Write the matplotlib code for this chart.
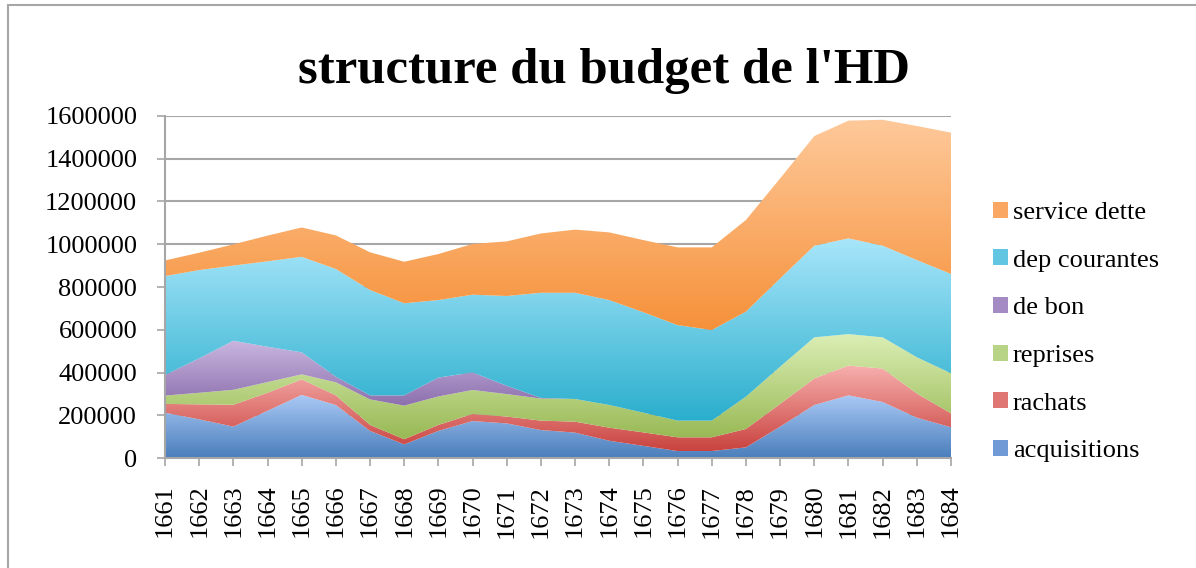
import matplotlib
matplotlib.use("Agg")
import matplotlib.pyplot as plt
import numpy as np
from matplotlib.colors import LinearSegmentedColormap
from matplotlib.patches import Patch, Rectangle

years = list(range(1661, 1685))

acquisitions = [213000, 182000, 148000, 222000, 296000, 249000, 128000, 65000, 128000, 174000, 163000, 132000,
                120000, 82000, 58000, 34000, 34000, 51000, 148000, 249000, 294000, 263000, 190000, 145000]
rachats = [41000, 70000, 102000, 84000, 73000, 45000, 28000, 24000, 28000, 33000, 32000, 44000,
           51000, 61000, 63000, 64000, 64000, 86000, 106000, 124000, 139000, 156000, 113000, 65000]
reprises = [39000, 54000, 70000, 50000, 23000, 61000, 119000, 157000, 133000, 112000, 105000, 103000,
            106000, 106000, 92000, 78000, 78000, 151000, 174000, 192000, 147000, 146000, 169000, 187000]
de_bon = [96000, 161000, 229000, 165000, 103000, 26000, 19000, 48000, 88000, 82000, 39000, 3000,
          0, 0, 0, 0, 0, 0, 0, 0, 0, 0, 0, 0]
dep_courantes = [462000, 412000, 351000, 399000, 446000, 503000, 492000, 430000, 362000, 363000, 419000, 491000,
                 496000, 490000, 469000, 446000, 423000, 397000, 412000, 428000, 447000, 428000, 454000, 464000]
service_dette = [73000, 81000, 99000, 120000, 137000, 157000, 176000, 194000, 215000, 237000, 255000, 277000,
                 295000, 316000, 337000, 363000, 386000, 428000, 467000, 512000, 550000, 588000, 626000, 660000]

labels = ["acquisitions", "rachats", "reprises", "de bon", "dep courantes", "service dette"]
series = [acquisitions, rachats, reprises, de_bon, dep_courantes, service_dette]
# (bottom colour, top colour) of each gradient
colours = [("#4a7ebb", "#abcaf6"), ("#c9433f", "#f7b0ae"), ("#98b954", "#dcefb6"),
           ("#7e5fa2", "#cfbde4"), ("#2aaecd", "#a8e6fa"), ("#f6913a", "#fec99a")]
legend_colours = ["#6f9ad6", "#e07673", "#b8d487", "#a48bc3", "#62c6e3", "#f9a763"]

title = "structure du budget de l'HD"

plt.rcParams["font.family"] = ["Liberation Serif", "DejaVu Serif"]

fig = plt.figure(figsize=(11.96, 5.68), dpi=100)
ax = fig.add_axes([165 / 1196, 1 - 458.3 / 568, (951 - 165) / 1196, (458.3 - 115.7) / 568])

x = np.array(years)
base = np.zeros(len(x))
grad = np.linspace(0, 1, 256).reshape(-1, 1)
handles = []
for vals, lab, (c0, c1), lc in zip(series, labels, colours, legend_colours):
    top = base + np.array(vals)
    poly = ax.fill_between(x, base, top, color="none", linewidth=0, zorder=2)
    cmap = LinearSegmentedColormap.from_list(lab, [c0, c1])
    im = ax.imshow(grad, cmap=cmap, origin="lower", aspect="auto",
                   extent=[x[0], x[-1], base.min(), top.max()], zorder=2,
                   interpolation="bilinear")
    im.set_clip_path(poly.get_paths()[0], transform=ax.transData)
    handles.append(Patch(facecolor=lc, edgecolor="none", label=lab))
    base = top

ax.set_xlim(1661, 1684)
ax.set_ylim(0, 1600000)
ax.set_yticks(np.arange(0, 1600001, 200000))
ax.ticklabel_format(axis="y", style="plain", useOffset=False)
ax.set_xticks(years)
ax.set_xticklabels([str(y) for y in years], rotation=90)
ax.grid(axis="y", color="#a6a6a6", linewidth=1.5, zorder=0)
ax.set_axisbelow(True)
for s in ["top", "right"]:
    ax.spines[s].set_visible(False)
for s in ["left", "bottom"]:
    ax.spines[s].set_color("#a6a6a6")
    ax.spines[s].set_linewidth(1.5)
    ax.spines[s].set_zorder(3)
ax.tick_params(axis="y", direction="out", length=6, width=1.2, color="#a6a6a6", pad=14, labelsize=19)
ax.tick_params(axis="x", direction="out", length=6, width=1.2, color="#a6a6a6", pad=13, labelsize=19)

fig.text(0.505, 1 - 83 / 568, title, ha="center", va="baseline", fontsize=36.5, fontweight="bold")

fig.legend(handles=handles[::-1], loc="center left", bbox_to_anchor=(993 / 1196, 1 - 332 / 568),
           frameon=False, fontsize=19, handlelength=0.55, handleheight=0.55, handletextpad=0.2,
           labelspacing=0.96, borderpad=0, borderaxespad=0)

fig.patches.append(Rectangle((8 / 1196, -0.1), 1.2, 1.1 - 5 / 568, transform=fig.transFigure,
                             fill=False, edgecolor="#a6a6a6", linewidth=1.5))

fig.savefig("out.png", dpi=100)
